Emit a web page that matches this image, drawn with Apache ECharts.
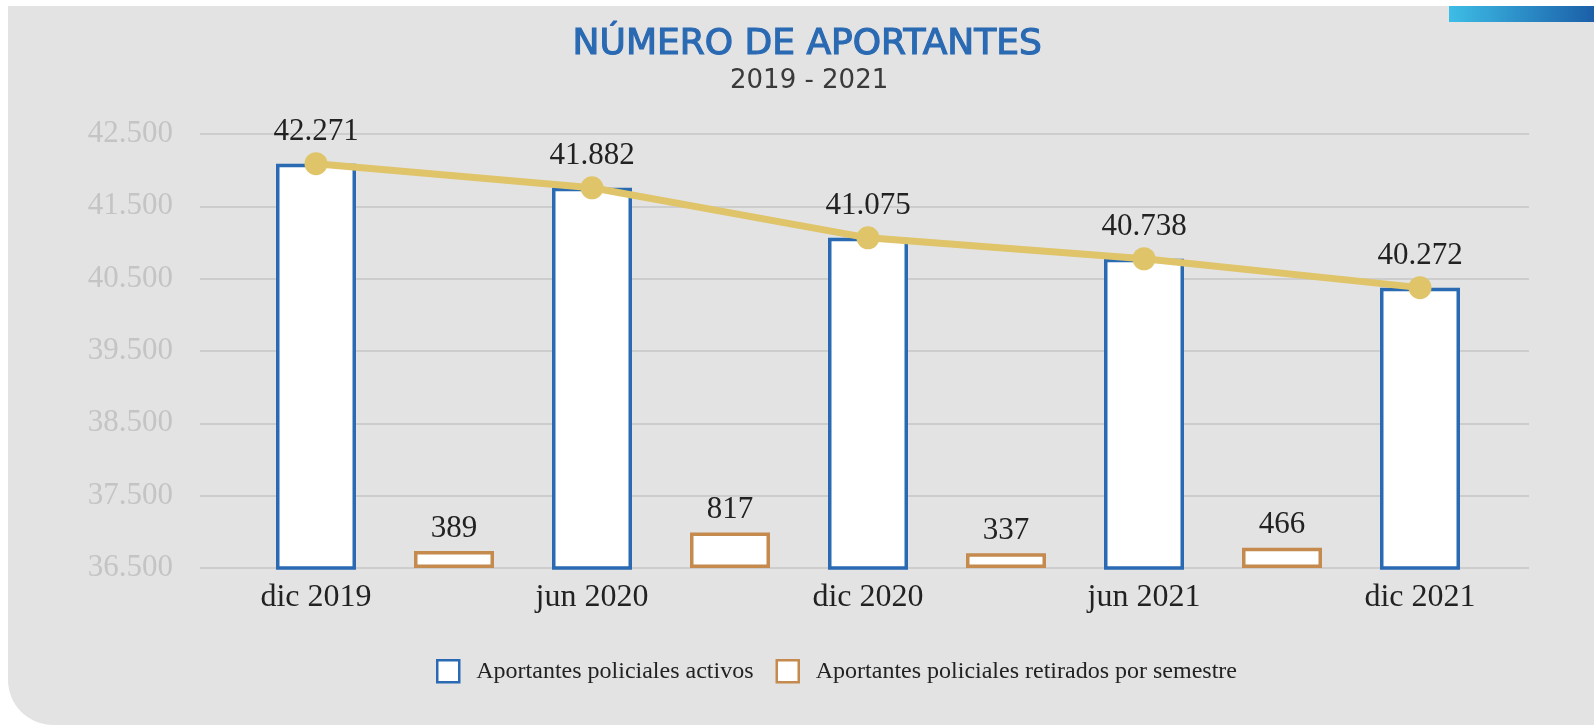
<!DOCTYPE html>
<html>
<head>
<meta charset="utf-8">
<script src="https://cdn.jsdelivr.net/npm/echarts@6/dist/echarts.min.js"></script>
<style>
  html, body { margin: 0; padding: 0; background: #fff; }
  #chart { width: 1594px; height: 725px; }
</style>
</head>
<body>
<div id="chart"></div>
<script>
// datos del gráfico
const periodos = ["dic 2019", "jun 2020", "dic 2020", "jun 2021", "dic 2021"];
const activos = [42271, 41882, 41075, 40738, 40272];
const retirados = [389, 817, 337, 466]; // entre cada periodo
const ticksY = [36500, 37500, 38500, 39500, 40500, 41500, 42500];

// 9 posiciones: periodo, retirados, periodo, ...
const categorias = [];
const serieActivos = [];
const serieRetirados = [];
periodos.forEach(function (p, i) {
    categorias.push(p);
    serieActivos.push(activos[i]);
    serieRetirados.push("-");
    if (i < retirados.length) {
        categorias.push("");
        serieActivos.push("-");
        serieRetirados.push(retirados[i]);
    }
});

function miles(v) {
    return String(v).replace(/\B(?=(\d{3})+(?!\d))/g, ".");
}

const serif = "Liberation Serif";
const azul = "#2a6ab3";
const cobre = "#c48a4e";
const oro = "#dfc46a";

var chart = echarts.init(document.getElementById("chart"));
chart.setOption({
    backgroundColor: "#fff",
    animation: false,
    graphic: [
        {
            type: "rect", z: -10, silent: true,
            shape: { x: 8, y: 6, width: 1594, height: 719, r: [0, 0, 0, 45] },
            style: { fill: "#e3e3e3" }
        },
        {
            type: "rect", z: -9, silent: true,
            shape: { x: 1449, y: 6, width: 145, height: 16 },
            style: {
                fill: new echarts.graphic.LinearGradient(0, 0, 1, 0, [
                    { offset: 0, color: "#3dbde6" },
                    { offset: 1, color: "#1b5fa8" }
                ])
            }
        },
        {
            type: "text", left: 572, top: 26,
            style: {
                text: "NÚMERO DE APORTANTES", fill: azul,
                stroke: azul, lineWidth: 1.2,
                font: "36px 'DejaVu Sans'"
            }
        },
        {
            type: "text", left: 730, top: 68,
            style: { text: "2019 - 2021", fill: "#3a3a3a", font: "26px 'DejaVu Sans'" }
        }
    ],
    legend: {
        data: [
            { name: "Aportantes policiales activos", itemStyle: { borderWidth: 2.5 } },
            { name: "Aportantes policiales retirados por semestre", itemStyle: { borderWidth: 2.5 } }
        ],
        left: 431,
        top: 654,
        icon: "rect",
        itemWidth: 22,
        itemHeight: 22,
        itemGap: 22,
        textStyle: { fontFamily: serif, fontSize: 24, color: "#222", padding: [0, 0, 0, 12] }
    },
    grid: [
        { left: 200, right: 65, top: 134, bottom: 157 },
        { left: 247, right: 105, top: 134, bottom: 157 }
    ],
    xAxis: [
        { gridIndex: 0, type: "value", show: false, min: 0, max: 1 },
        {
            gridIndex: 1,
            type: "category",
            data: categorias,
            axisLine: { show: false },
            axisTick: { show: false },
            axisLabel: {
                interval: 0,
                margin: 14,
                fontFamily: serif,
                fontSize: 32,
                color: "#222"
            }
        }
    ],
    yAxis: [
        {
            gridIndex: 0,
            type: "value",
            min: 36500,
            max: 42500,
            interval: 1000,
            axisLine: { show: false },
            axisTick: { show: false },
            axisLabel: {
                margin: 27,
                fontFamily: serif,
                fontSize: 31,
                color: "#c4c4c4",
                formatter: function (v) { return miles(v); }
            },
            splitLine: { lineStyle: { color: "#c6c6c6", width: 1.5 } }
        },
        // escalas ocultas para las barras y la línea
        { gridIndex: 1, type: "value", show: false, min: 35750, max: 42750 },
        { gridIndex: 1, type: "value", show: false, min: 0, max: 10000 }
    ],
    series: [
        {
            name: "Aportantes policiales activos",
            type: "bar",
            xAxisIndex: 1,
            yAxisIndex: 1,
            data: serieActivos,
            barWidth: 80,
            barGap: "-100%",
            itemStyle: { color: "#fff", borderColor: azul, borderWidth: 3.5 }
        },
        {
            name: "Aportantes policiales retirados por semestre",
            type: "bar",
            xAxisIndex: 1,
            yAxisIndex: 2,
            data: serieRetirados,
            barWidth: 80,
            barGap: "-100%",
            itemStyle: { color: "#fff", borderColor: cobre, borderWidth: 3.5 },
            label: {
                show: true,
                position: "top",
                distance: 7,
                fontFamily: serif,
                fontSize: 31,
                color: "#222",
                formatter: function (p) { return miles(p.value); }
            }
        },
        {
            name: "tendencia",
            type: "line",
            xAxisIndex: 1,
            yAxisIndex: 1,
            data: serieActivos,
            connectNulls: true,
            symbol: "circle",
            symbolSize: 23,
            lineStyle: { color: oro, width: 7 },
            itemStyle: { color: oro },
            label: {
                show: true,
                position: "top",
                distance: 5,
                fontFamily: serif,
                fontSize: 31,
                color: "#222",
                formatter: function (p) { return miles(p.value); }
            },
            z: 5
        }
    ]
});
window.addEventListener("resize", function () {
    chart.resize();
});
</script>
</body>
</html>
